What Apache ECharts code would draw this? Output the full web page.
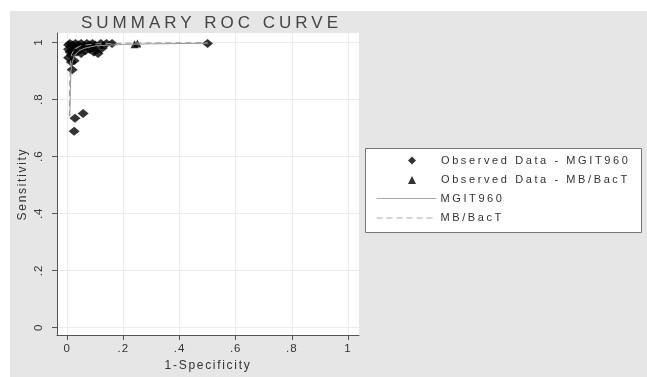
<!DOCTYPE html>
<html>
<head>
<meta charset="utf-8">
<script src="https://cdn.jsdelivr.net/npm/echarts@6/dist/echarts.min.js"></script>
<style>
html,body{margin:0;padding:0;background:#ffffff;}
#chart{width:647px;height:377px;}
</style>
</head>
<body>
<div id="chart"></div>
<script>
// ---- data ----
const titleText = 'SUMMARY ROC CURVE';
const xName = '1-Specificity';
const yName = 'Sensitivity';
const tickValues = [0, 0.2, 0.4, 0.6, 0.8, 1];
const tickLabels = ['0', '.2', '.4', '.6', '.8', '1'];

const mgitObserved = [
  [0.005,0.990],[0.010,0.995],[0.015,0.985],[0.020,0.990],[0.005,0.975],
  [0.010,0.965],[0.015,0.955],[0.005,0.945],[0.020,0.970],[0.030,0.995],
  [0.040,0.990],[0.050,0.995],[0.060,0.985],[0.070,0.995],[0.080,0.990],
  [0.090,0.995],[0.100,0.990],[0.120,0.995],[0.140,0.995],[0.160,0.995],
  [0.035,0.965],[0.050,0.960],[0.065,0.970],[0.080,0.975],[0.095,0.965],
  [0.110,0.960],[0.120,0.975],[0.025,0.935],[0.015,0.930],[0.500,0.995],
  [0.018,0.903],[0.028,0.733],[0.057,0.750],[0.025,0.688]
];
const mbbactObserved = [
  [0.240,0.993],[0.250,0.995],[0.060,0.990],[0.100,0.985],[0.130,0.990],
  [0.045,0.975],[0.090,0.980]
];
const mgitCurve = [
  [0.010,0.740],[0.011,0.800],[0.012,0.850],[0.014,0.900],[0.018,0.930],
  [0.025,0.950],[0.040,0.968],[0.060,0.978],[0.100,0.987],[0.200,0.992],
  [0.300,0.994],[0.500,0.996]
];
const mbbactCurve = [
  [0.008,0.740],[0.009,0.850],[0.011,0.920],[0.015,0.955],[0.025,0.975],
  [0.050,0.988],[0.100,0.994],[0.250,0.997],[0.500,0.998]
];
const legendNames = ['Observed Data - MGIT960','Observed Data - MB/BacT','MGIT960','MB/BacT'];

// ---- letter spacing (Stata-style wide text) ----
(function(){
  const p = CanvasRenderingContext2D.prototype;
  const of = p.fillText;
  const spacing = {17: 4, 11: 2.6, 12: 1.7};
  p.fillText = function(t, x, y, w){
    if ('letterSpacing' in this) {
      const m = /(\d+(?:\.\d+)?)px/.exec(this.font);
      const s = m ? parseFloat(m[1]) : 12;
      this.letterSpacing = (spacing[s] !== undefined ? spacing[s] : 1) + 'px';
    }
    return w === undefined ? of.call(this, t, x, y) : of.call(this, t, x, y, w);
  };
})();

// ---- rendering ----
const chart = echarts.init(document.getElementById('chart'), null, {renderer:'canvas'});
const fmt = v => { const i = tickValues.findIndex(t => Math.abs(t - v) < 1e-9); return i >= 0 ? tickLabels[i] : ''; };
const axisCommon = {
  type: 'value',
  axisLine: {show: true, onZero: false, lineStyle: {color: '#555', width: 1}},
  axisTick: {show: true, length: 5, lineStyle: {color: '#555'}, customValues: tickValues},
  splitLine: {show: true, lineStyle: {color: '#ececec', width: 1}},
  nameLocation: 'middle',
  nameTextStyle: {color: '#333', fontSize: 12, fontFamily: 'Liberation Sans'}
};
const legendText = {color: '#333', fontSize: 11, fontFamily: 'Liberation Sans'};
const option = {
  backgroundColor: '#ffffff',
  animation: false,
  graphic: [
    {type: 'rect', left: 10, top: 11, shape: {width: 637, height: 366}, style: {fill: '#e6e6e6'}, z: -10, silent: true},
    {type: 'rect', left: 365, top: 148, shape: {width: 276, height: 84}, style: {fill: '#ffffff', stroke: '#777', lineWidth: 1}, z: -5, silent: true}
  ],
  title: {
    text: titleText, left: 76, top: 10,
    textStyle: {color: '#444', fontSize: 17, fontWeight: 'normal', fontFamily: 'Liberation Sans'}
  },
  legend: [
    {
      orient: 'vertical', left: 403, top: 150,
      data: [
        {name: legendNames[0], icon: 'diamond'},
        {name: legendNames[1], icon: 'triangle'}
      ],
      itemWidth: 8, itemHeight: 8, itemGap: 8.5,
      textStyle: Object.assign({padding: [0,0,0,20]}, legendText)
    },
    {
      orient: 'vertical', left: 371, top: 188,
      data: [
        {name: legendNames[2], itemStyle: {color: 'transparent', borderWidth: 0}, lineStyle: {width: 1, color: '#aaa'}},
        {name: legendNames[3], itemStyle: {color: 'transparent', borderWidth: 0}, lineStyle: {width: 1, color: '#aaa'}}
      ],
      itemWidth: 60, itemHeight: 8, itemGap: 8.5,
      textStyle: Object.assign({padding: [0,0,0,-1]}, legendText)
    }
  ],
  grid: {left: 57, top: 33, width: 302, height: 311, show: true, backgroundColor: '#ffffff', borderWidth: 0},
  xAxis: Object.assign({}, axisCommon, {
    min: -0.036, max: 1.039, name: xName, nameGap: 20,
    axisLabel: {color: '#333', fontSize: 11.5, fontFamily: 'Liberation Sans', margin: 8, customValues: tickValues, formatter: fmt}
  }),
  yAxis: Object.assign({}, axisCommon, {
    min: -0.027, max: 1.032, name: yName, nameGap: 28,
    axisLabel: {color: '#333', fontSize: 11.5, fontFamily: 'Liberation Sans', margin: 12, rotate: 90, customValues: tickValues, formatter: fmt}
  }),
  series: [
    {name: legendNames[0], type: 'scatter', data: mgitObserved, symbol: 'diamond', symbolSize: [11, 9],
     itemStyle: {color: '#000'}, z: 2},
    {name: legendNames[1], type: 'scatter', data: mbbactObserved, symbol: 'triangle', symbolSize: 8,
     itemStyle: {color: '#000'}, z: 2},
    {name: legendNames[2], type: 'line', data: mgitCurve, symbol: 'none', showSymbol: false,
     lineStyle: {color: '#999', width: 1, type: 'solid'}, itemStyle: {color: '#999'}, z: 3},
    {name: legendNames[3], type: 'line', data: mbbactCurve, symbol: 'none', showSymbol: false,
     lineStyle: {color: '#999', width: 1, type: [6, 4]}, itemStyle: {color: '#999'}, z: 3}
  ]
};
chart.setOption(option);
</script>
</body>
</html>
